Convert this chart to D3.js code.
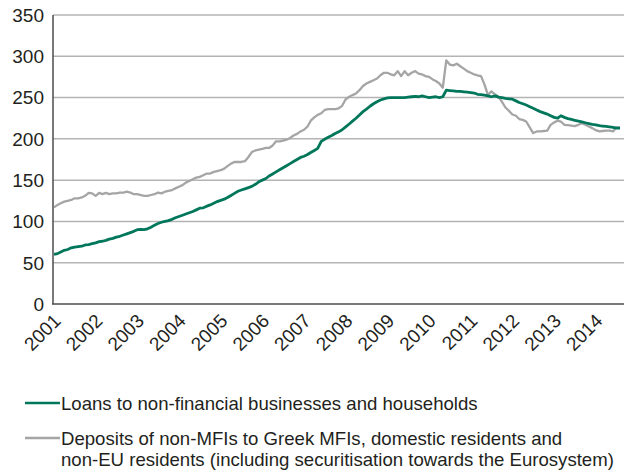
<!DOCTYPE html>
<html lang="en">
<head>
  <meta charset="UTF-8" />
  <title>Loans and deposits</title>
  <style>
    body { margin: 0; background: #fff; }
    svg { display: block; font-family: "Liberation Sans", Arial, sans-serif; }
    .grid line { stroke: #b4b4b4; stroke-width: 1.5px; }
    .tick-label { font-size: 19px; fill: #231f20; }
    .legend text { font-size: 18.6px; fill: #231f20; }
  </style>
</head>
<body>
  <script src="https://d3js.org/d3.v7.min.js"></script>
  <script>
    // monthly series, Jan 2001 .. Aug 2014
    const startMonth = new Date(2001, 0, 1);

    const loans = [
      60, 61, 63, 65, 66, 68, 69, 69.5, 70, 71.5, 72, 73,
      74, 75.5, 76, 77, 78.5, 79.5, 81, 82, 83.5, 85, 86.5, 88,
      90, 90.5, 90, 91, 93, 95.5, 97.5, 99, 100, 101, 102.5, 104.5,
      106, 107.5, 109, 110.5, 112, 114, 116, 116.5, 118.5, 120, 122, 124,
      125.5, 127, 129, 131.5, 134, 136.5, 138, 139.5, 141, 142.5, 145, 148,
      150, 152, 155, 157.5, 160, 162.5, 165, 167.5, 170, 172.5, 175, 177.5,
      179, 181, 183.5, 186, 188.5, 197, 199.5, 202, 204, 206.5, 208.5, 211,
      214.5, 218, 221.5, 225, 229, 233, 236, 239.5, 242.5, 245, 247, 248.5,
      249.5, 250, 250, 250, 250, 250, 250.5, 251, 251.5, 251, 252, 251,
      250, 250.5, 251, 250, 251, 259, 258.5, 258, 257.5, 257.5, 257, 256.5,
      256, 255.5, 254, 253.5, 253, 252, 251, 252, 250.5, 250, 249, 248.5,
      248, 246, 244, 242.5, 241, 239, 237, 235, 233, 231.5, 230, 228,
      226, 225, 228, 226, 224.5, 223.5, 222.5, 221.5, 220.5, 219.5, 218.5, 217.5,
      217, 216, 215.5, 215, 214.5, 214, 213, 213
    ];

    const deposits = [
      117, 120, 122, 124, 125, 126, 128, 128, 129, 131, 134.5, 134,
      131, 134.5, 133, 134.5, 133, 134, 134, 135, 135, 136, 135, 133,
      133, 132, 131, 131, 132, 133, 135, 134, 136, 137, 138, 140,
      142, 144, 147, 149, 151, 153, 154, 156, 158, 158, 160, 161,
      162, 164, 167, 170, 172, 172, 172, 173, 178, 184, 186, 187,
      188, 189, 189, 192, 197, 197, 198, 199, 201, 204, 206, 209,
      211, 215, 222, 226, 229, 231, 235, 236, 236, 236, 237, 240,
      248, 251, 253, 255, 259, 264, 267, 269, 271, 273, 277, 280,
      280, 278, 277, 282, 276, 282, 277, 280, 282, 279, 278, 276,
      275, 272, 270, 267, 262, 295, 290, 289, 291, 288, 285, 282,
      280, 278, 277, 276, 266, 253, 257.5, 254, 251, 245, 238, 234,
      229.5, 228, 224, 223, 221, 214, 207, 209, 209, 209.5, 210, 217,
      220, 222, 221, 217, 216.5, 216, 215.5, 217, 219, 217, 215, 213,
      210.5, 209, 209.5, 210, 210, 209, 214, 214
    ];

    const yTicks = [0, 50, 100, 150, 200, 250, 300, 350];
    const yearLabels = ["2001", "2002", "2003", "2004", "2005", "2006", "2007",
      "2008", "2009", "2010", "2011", "2012", "2013", "2014"];

    const legendLabels = [
      ["Loans to non-financial businesses and households"],
      ["Deposits of non-MFIs to Greek MFIs, domestic residents and",
       "non-EU residents (including securitisation towards the Eurosystem)"]
    ];
    const colors = ["#00775a", "#a5a5a5"];

    const width = 624, height = 471;
    const svg = d3.select("body").append("svg")
      .attr("width", width)
      .attr("height", height);

    const months = loans.map((d, i) => d3.timeMonth.offset(startMonth, i));

    const x = d3.scaleTime()
      .domain([months[0], months[months.length - 1]])
      .range([54, 620]);
    const y = d3.scaleLinear().domain([0, 350]).range([304, 15]);

    // gridlines
    svg.append("g").attr("class", "grid")
      .selectAll("line")
      .data(yTicks.filter(d => d > 0))
      .enter().append("line")
      .attr("x1", 53).attr("x2", width)
      .attr("y1", d => y(d)).attr("y2", d => y(d));

    // y labels
    svg.append("g").selectAll("text")
      .data(yTicks)
      .enter().append("text")
      .attr("class", "tick-label")
      .attr("x", 44)
      .attr("y", d => y(d))
      .attr("dy", "0.36em")
      .attr("text-anchor", "end")
      .text(d => d);

    // x labels, rotated
    svg.append("g").selectAll("text")
      .data(yearLabels)
      .enter().append("text")
      .attr("class", "tick-label")
      .attr("text-anchor", "end")
      .attr("transform", d => {
        const px = x(new Date(+d, 0, 1)) + 8;
        return "translate(" + px + ",322) rotate(-45)";
      })
      .text(d => d);

    const line = d3.line()
      .x((d, i) => x(months[i]))
      .y(d => y(d));

    // grey first, green on top
    svg.append("path")
      .datum(deposits)
      .attr("fill", "none")
      .attr("stroke", colors[1])
      .attr("stroke-width", 2.3)
      .attr("stroke-linejoin", "round")
      .attr("d", line);

    svg.append("path")
      .datum(loans)
      .attr("fill", "none")
      .attr("stroke", colors[0])
      .attr("stroke-width", 2.8)
      .attr("stroke-linejoin", "round")
      .attr("d", line);

    // axes lines
    svg.append("line")
      .attr("x1", 53).attr("x2", 53).attr("y1", 15).attr("y2", 304.5)
      .attr("stroke", "#4d4d4d").attr("stroke-width", 1.5);
    svg.append("line")
      .attr("x1", 52.25).attr("x2", width).attr("y1", 304).attr("y2", 304)
      .attr("stroke", "#4d4d4d").attr("stroke-width", 1.5);

    // legend
    const legend = svg.append("g").attr("class", "legend");
    const legendY = [403, 438];
    legendLabels.forEach((lines, i) => {
      legend.append("line")
        .attr("x1", 25).attr("x2", 60)
        .attr("y1", legendY[i]).attr("y2", legendY[i])
        .attr("stroke", colors[i]).attr("stroke-width", 2.5);
      lines.forEach((t, j) => {
        legend.append("text")
          .attr("x", 61)
          .attr("y", legendY[i] + j * 21)
          .attr("dy", "0.35em")
          .text(t);
      });
    });
  </script>
</body>
</html>
